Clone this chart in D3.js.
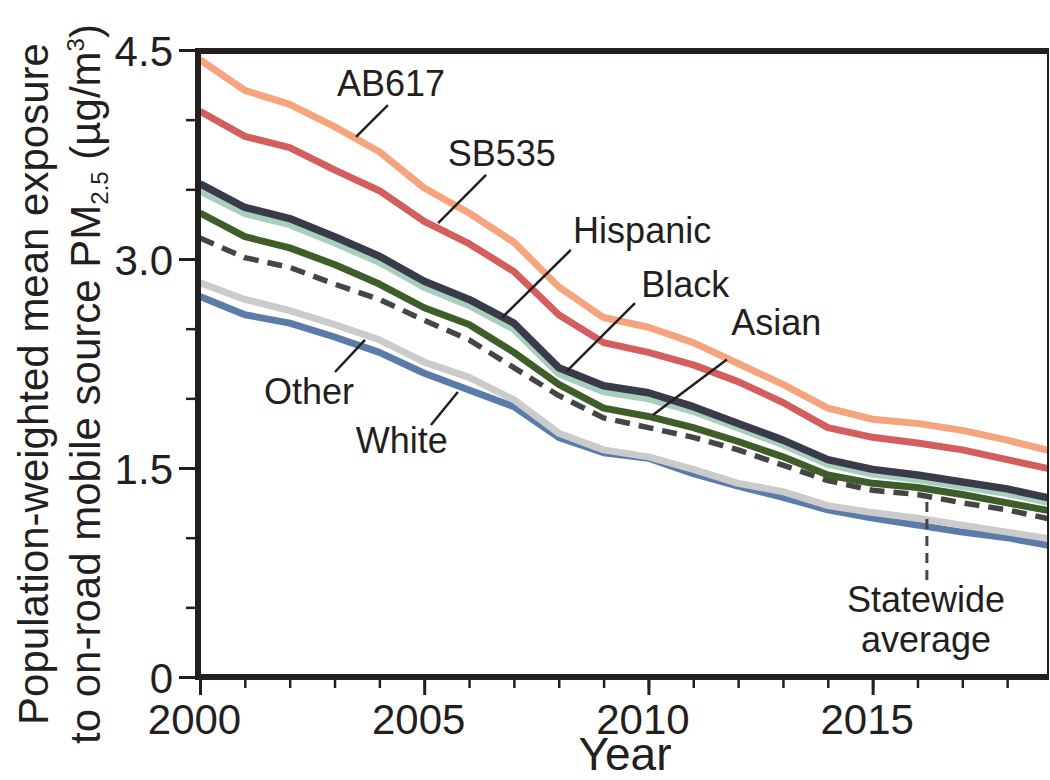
<!DOCTYPE html>
<html>
<head>
<meta charset="utf-8">
<script src="https://cdn.jsdelivr.net/npm/d3@7"></script>
<style>
  body { margin: 0; background: #fff; }
  svg { display: block; font-family: "Liberation Sans", Arial, Helvetica, sans-serif; }
</style>
</head>
<body>
<svg id="chart" width="1050" height="780"></svg>
<script>
// Population-weighted exposure to on-road mobile source PM2.5, 2000-2019
const years = d3.range(2000, 2020);

const ab617     = [4.43, 4.21, 4.11, 3.95, 3.77, 3.51, 3.33, 3.12, 2.80, 2.58, 2.51, 2.40, 2.25, 2.10, 1.93, 1.85, 1.82, 1.77, 1.70, 1.62];
const sb535     = [4.06, 3.88, 3.80, 3.64, 3.49, 3.27, 3.11, 2.91, 2.60, 2.40, 2.33, 2.24, 2.12, 1.97, 1.79, 1.72, 1.68, 1.63, 1.56, 1.49];
const hispanic  = [3.54, 3.37, 3.29, 3.16, 3.02, 2.84, 2.71, 2.54, 2.22, 2.09, 2.04, 1.94, 1.82, 1.70, 1.56, 1.49, 1.45, 1.40, 1.35, 1.28];
const black     = [3.49, 3.33, 3.25, 3.12, 2.98, 2.80, 2.67, 2.50, 2.18, 2.05, 2.00, 1.91, 1.79, 1.67, 1.53, 1.46, 1.42, 1.37, 1.32, 1.25];
const asian     = [3.33, 3.16, 3.08, 2.96, 2.82, 2.65, 2.53, 2.33, 2.10, 1.93, 1.87, 1.79, 1.69, 1.58, 1.45, 1.39, 1.36, 1.31, 1.25, 1.19];
const statewide = [3.15, 3.01, 2.94, 2.82, 2.71, 2.56, 2.42, 2.22, 2.02, 1.86, 1.79, 1.72, 1.63, 1.52, 1.41, 1.34, 1.31, 1.25, 1.20, 1.13];
const other     = [2.83, 2.71, 2.63, 2.53, 2.42, 2.26, 2.15, 1.99, 1.75, 1.63, 1.58, 1.49, 1.39, 1.33, 1.23, 1.18, 1.14, 1.09, 1.04, 0.99];
const white     = [2.73, 2.60, 2.54, 2.44, 2.33, 2.18, 2.06, 1.94, 1.72, 1.61, 1.57, 1.46, 1.37, 1.29, 1.20, 1.14, 1.09, 1.04, 1.00, 0.94];

const yTickValues = [0, 1.5, 3, 4.5];
const yTickLabels = ["0", "1.5", "3.0", "4.5"];
const xTickValues = [2000, 2005, 2010, 2015];
const xTickLabels = ["2000", "2005", "2010", "2015"];

// Drawing order: bottom layer first
const series = [
  { name: "White",     values: white,     color: "#5b7ba8", width: 7 },
  { name: "Other",     values: other,     color: "#cbcbcb", width: 7 },
  { name: "Statewide", values: statewide, color: "#454548", width: 5.5, dash: "15,9" },
  { name: "Asian",     values: asian,     color: "#3f5d29", width: 7 },
  { name: "Black",     values: black,     color: "#a8cfbd", width: 8 },
  { name: "Hispanic",  values: hispanic,  color: "#3a3b4a", width: 7.5 },
  { name: "SB535",     values: sb535,     color: "#d45d5d", width: 7 },
  { name: "AB617",     values: ab617,     color: "#f6a47e", width: 7 }
];

// Labels with leader lines, placed in data units (year, value)
const labels = [
  { text: ["AB617"],    at: [2004.26, 4.17],  from: [2004.19, 4.105], to: [2003.48, 3.876] },
  { text: ["SB535"],    at: [2006.73, 3.668], from: [2006.38, 3.603], to: [2005.31, 3.258] },
  { text: ["Hispanic"], at: [2009.86, 3.115], from: [2008.27, 3.065], to: [2006.73, 2.577] },
  { text: ["Black"],    at: [2010.82, 2.727], from: [2009.70, 2.684], to: [2008.18, 2.196] },
  { text: ["Asian"],    at: [2012.85, 2.455], from: [2011.75, 2.279], to: [2010.10, 1.880] },
  { text: ["Other"],    at: [2002.43, 1.959], from: [2003.68, 2.419], to: [2003.01, 2.189] },
  { text: ["White"],    at: [2004.50, 1.608], from: [2005.75, 2.046], to: [2005.15, 1.809] },
  { text: ["Statewide", "average"], at: [2016.19, 0.467], from: [2016.21, 1.256], to: [2016.21, 0.660], dash: true }
];

const svg = d3.select("#chart");
const plotLeft = 198, plotRight = 1048, plotTop = 51, plotBottom = 677;

const x = d3.scaleLinear().domain([2000, 2019]).range([200, 1052]);
const y = d3.scaleLinear().domain([0, 4.5]).range([plotBottom, 50]);

svg.append("rect").attr("width", 1050).attr("height", 780).attr("fill", "#fff");

svg.append("clipPath").attr("id", "plot-clip")
  .append("rect").attr("x", plotLeft).attr("y", plotTop)
  .attr("width", plotRight - plotLeft).attr("height", plotBottom - plotTop);

// Series lines
const line = d3.line().x((d, i) => x(years[i])).y(d => y(d));
const gLines = svg.append("g").attr("clip-path", "url(#plot-clip)");
series.forEach(s => {
  gLines.append("path")
    .datum(s.values)
    .attr("d", line)
    .attr("fill", "none")
    .attr("stroke", s.color)
    .attr("stroke-width", s.width)
    .attr("stroke-linejoin", "round")
    .attr("stroke-dasharray", s.dash || null);
});

// Frame
svg.append("line").attr("x1", plotRight).attr("x2", plotRight).attr("y1", plotTop).attr("y2", plotBottom)
  .attr("stroke", "#231f20").attr("stroke-width", 2);
svg.append("line").attr("x1", plotLeft - 3).attr("x2", plotRight + 1).attr("y1", plotTop).attr("y2", plotTop)
  .attr("stroke", "#231f20").attr("stroke-width", 6);

// Y axis: minor and major ticks
const yMinor = d3.axisLeft(y).tickValues(d3.range(0, 4.51, 0.5)).tickSize(12).tickFormat("");
const gyMinor = svg.append("g").attr("transform", `translate(${plotLeft},0)`).call(yMinor);
gyMinor.select(".domain").remove();
gyMinor.selectAll(".tick line").attr("stroke", "#231f20").attr("stroke-width", 2.5);

const yMajor = d3.axisLeft(y).tickValues(yTickValues).tickSize(19).tickPadding(6)
  .tickFormat((d, i) => yTickLabels[i]);
const gyMajor = svg.append("g").attr("transform", `translate(${plotLeft},0)`).call(yMajor);
gyMajor.select(".domain").remove();
gyMajor.selectAll(".tick line").attr("stroke", "#231f20").attr("stroke-width", 3);
gyMajor.selectAll(".tick text").attr("font-size", 42).attr("fill", "#231f20")
  .attr("font-family", "'Liberation Sans', Arial, Helvetica, sans-serif").attr("dy", "0.36em");

// X axis: minor and major ticks
const xMinor = d3.axisBottom(x).tickValues(years).tickSize(11).tickFormat("");
const gxMinor = svg.append("g").attr("transform", `translate(0,${plotBottom})`).call(xMinor);
gxMinor.select(".domain").remove();
gxMinor.selectAll(".tick line").attr("stroke", "#231f20").attr("stroke-width", 2.5);

const xMajor = d3.axisBottom(x).tickValues(xTickValues).tickSize(18).tickPadding(9)
  .tickFormat((d, i) => xTickLabels[i]);
const gxMajor = svg.append("g").attr("transform", `translate(0,${plotBottom})`).call(xMajor);
gxMajor.select(".domain").remove();
gxMajor.selectAll(".tick line").attr("stroke", "#231f20").attr("stroke-width", 3);
gxMajor.selectAll(".tick text").attr("font-size", 42).attr("fill", "#231f20")
  .attr("font-family", "'Liberation Sans', Arial, Helvetica, sans-serif")
  .attr("dx", -6).attr("dy", "0.72em");

// Thick left and bottom axis lines
svg.append("line").attr("x1", plotLeft).attr("x2", plotLeft).attr("y1", plotTop - 3).attr("y2", plotBottom + 3)
  .attr("stroke", "#231f20").attr("stroke-width", 6);
svg.append("line").attr("x1", plotLeft - 3).attr("x2", plotRight + 1).attr("y1", plotBottom).attr("y2", plotBottom)
  .attr("stroke", "#231f20").attr("stroke-width", 6);

// Axis titles
svg.append("text").attr("x", 625).attr("y", 770).attr("text-anchor", "middle")
  .attr("font-size", 46).attr("fill", "#231f20").text("Year");

const yTitle = svg.append("g").attr("transform", "translate(0,384) rotate(-90)");
yTitle.append("text").attr("x", 0).attr("y", 48).attr("text-anchor", "middle")
  .attr("font-size", 42).attr("fill", "#231f20").text("Population-weighted mean exposure");
const t2 = yTitle.append("text").attr("x", 0).attr("y", 100).attr("text-anchor", "middle")
  .attr("font-size", 42).attr("fill", "#231f20");
t2.append("tspan").text("to on-road mobile source PM");
t2.append("tspan").attr("font-size", 24).attr("dy", 8).text("2.5");
t2.append("tspan").attr("dy", -8).text(" (\u00b5g/m");
t2.append("tspan").attr("font-size", 24).attr("dy", -16).text("3");
t2.append("tspan").attr("dy", 16).text(")");

// Labels and leader lines
const gLab = svg.append("g");
labels.forEach(l => {
  gLab.append("line")
    .attr("x1", x(l.from[0])).attr("y1", y(l.from[1]))
    .attr("x2", x(l.to[0])).attr("y2", y(l.to[1]))
    .attr("stroke", l.dash ? "#454548" : "#231f20")
    .attr("stroke-width", l.dash ? 3 : 2.5)
    .attr("stroke-dasharray", l.dash ? "10,7" : null);
  const t = gLab.append("text")
    .attr("x", x(l.at[0])).attr("y", y(l.at[1]))
    .attr("text-anchor", "middle").attr("font-size", 36).attr("fill", "#231f20");
  l.text.forEach((s, i) => {
    t.append("tspan").attr("x", x(l.at[0])).attr("dy", i === 0 ? 0 : 40).text(s);
  });
});
</script>
</body>
</html>
